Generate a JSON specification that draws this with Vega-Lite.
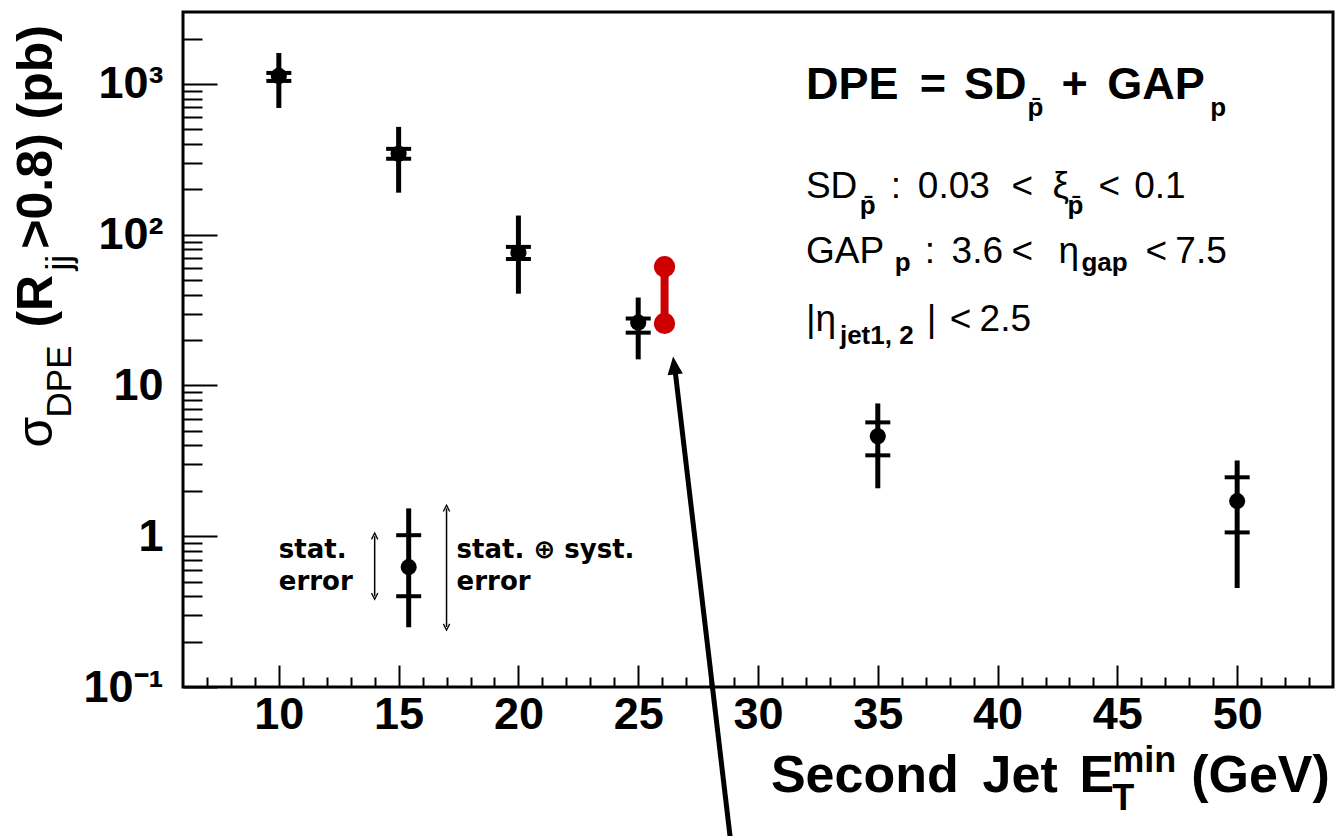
{
  "$schema": "https://vega.github.io/schema/vega-lite/v6.json",
  "width": 1150,
  "height": 675,
  "autosize": {"type": "none"},
  "padding": {"left": 183, "top": 12, "right": 4, "bottom": 149},
  "background": "white",
  "config": {"view": {"stroke": "black", "strokeWidth": 3}},
  "resolve": {"axis": {"x": "independent", "y": "independent"}},
  "datasets": {
    "pts": [
      {"x": 10, "y": 1130, "lo": 693, "hi": 1603, "slo": 1047, "shi": 1183},
      {"x": 15, "y": 344, "lo": 190, "hi": 519, "slo": 319, "shi": 371},
      {"x": 20, "y": 76, "lo": 40.6, "hi": 134, "slo": 69, "shi": 83},
      {"x": 25, "y": 26.1, "lo": 14.9, "hi": 38.3, "slo": 22.4, "shi": 27.8},
      {"x": 35, "y": 4.6, "lo": 2.08, "hi": 7.6, "slo": 3.44, "shi": 5.69},
      {"x": 50, "y": 1.71, "lo": 0.453, "hi": 3.18, "slo": 1.06, "shi": 2.46},
      {"x": 15.42, "y": 0.624, "lo": 0.249, "hi": 1.53, "slo": 0.40, "shi": 1.016}
    ],
    "red": [{"x": 26.1, "lo": 25.8, "hi": 61.4}],
    "keyArrows": [{"x": 14.0, "lo": 0.40, "hi": 1.0}, {"x": 17.0, "lo": 0.25, "hi": 1.53}],
    "bigArrow": [{"x": 28.875, "y": 0.009}, {"x": 26.54, "y": 12.57}],
    "arrowHead": [{"x": 26.5, "y": 13.57}],
    "yTitleBold": [{"x": 0.542, "y": 24.2, "t": "(R"}, {"x": 0.542, "y": 80.7, "t": ">0.8) (pb)"}],
    "yTitleSigma": [{"x": 0.542, "y": 3.88, "t": "σ"}],
    "yTitleSub": [{"x": 1.333, "y": 6.14, "t": "DPE"}, {"x": 1.333, "y": 57.8, "t": "jj"}],
    "xTitle": [{"x": 30.54, "y": 0.0202, "t": "Second"}, {"x": 39.375, "y": 0.0202, "t": "Jet"}, {"x": 43.42, "y": 0.0202, "t": "E"}, {"x": 48.08, "y": 0.0202, "t": "(GeV)"}],
    "xTitleSmall": [{"x": 44.79, "y": 0.02735, "t": "min"}, {"x": 44.79, "y": 0.01531, "t": "T"}],
    "ann1": [{"x": 32.0, "y": 795.6, "t": "DPE"}, {"x": 36.75, "y": 795.6, "t": "="}, {"x": 38.6, "y": 795.6, "t": "SD"}, {"x": 42.67, "y": 795.6, "t": "+"}, {"x": 44.58, "y": 795.6, "t": "GAP"}],
    "annSub": [
      {"x": 41.25, "y": 614, "t": "p̄"}, {"x": 48.875, "y": 614, "t": "p"},
      {"x": 34.25, "y": 137.7, "t": "p̄"}, {"x": 42.92, "y": 137.7, "t": "p̄"},
      {"x": 35.71, "y": 57.8, "t": "p"}, {"x": 43.5, "y": 57.8, "t": "gap"},
      {"x": 33.42, "y": 18.97, "t": "jet1, 2"}
    ],
    "annReg": [
      {"x": 32.0, "y": 175.8, "t": "SD"}, {"x": 35.54, "y": 175.8, "t": ":"}, {"x": 36.67, "y": 175.8, "t": "0.03"}, {"x": 40.58, "y": 175.8, "t": "<"}, {"x": 42.29, "y": 175.8, "t": "ξ"}, {"x": 44.21, "y": 175.8, "t": "<"}, {"x": 45.7, "y": 175.8, "t": "0.1"},
      {"x": 32.0, "y": 65.3, "t": "GAP"}, {"x": 36.96, "y": 65.3, "t": ":"}, {"x": 38.08, "y": 65.3, "t": "3.6"}, {"x": 40.58, "y": 65.3, "t": "<"}, {"x": 42.54, "y": 65.3, "t": "η"}, {"x": 46.17, "y": 65.3, "t": "<"}, {"x": 47.42, "y": 65.3, "t": "7.5"},
      {"x": 32.0, "y": 23.1, "t": "|η"}, {"x": 37.04, "y": 23.1, "t": "|"}, {"x": 38.0, "y": 23.1, "t": "<"}, {"x": 39.25, "y": 23.1, "t": "2.5"}
    ],
    "keyText": [{"x": 10.0, "y": 0.715, "t": "stat."}, {"x": 10.0, "y": 0.439, "t": "error"}, {"x": 17.42, "y": 0.715, "t": "stat. ⊕ syst."}, {"x": 17.42, "y": 0.439, "t": "error"}]
  },
  "layer": [
    {
      "data": {"name": "pts"},
      "mark": {"type": "rule", "color": "black", "strokeWidth": 5},
      "encoding": {
        "x": {"field": "x", "type": "quantitative", "scale": {"domain": [6, 54], "nice": false, "zero": false},
          "axis": {
            "orient": "bottom",
            "values": [10, 15, 20, 25, 30, 35, 40, 45, 50],
            "title": null, "domain": false, "grid": false,
            "tickColor": "black", "tickWidth": 2, "tickSize": -22,
            "format": "d",
            "labelFont": "Liberation Sans", "labelFontWeight": "bold", "labelFontSize": 45, "labelColor": "black",
            "labelPadding": 27, "labelOverlap": false, "labelFlush": false, "labelBound": false
          }},
        "y": {"field": "lo", "type": "quantitative", "scale": {"type": "log", "domain": [0.1, 3000], "nice": false},
          "axis": {
            "orient": "left",
            "values": [0.1, 1, 10, 100, 1000],
            "title": null, "domain": false, "grid": false,
            "tickColor": "black", "tickWidth": 2, "tickSize": -34,
            "labelExpr": "datum.value === 1000 ? '10³' : datum.value === 100 ? '10²' : datum.value === 10 ? '10\u2008' : datum.value === 1 ? '1\u2008' : '10⁻¹'",
            "labelFont": "Liberation Sans", "labelFontWeight": "bold", "labelFontSize": 45, "labelColor": "black",
            "labelPadding": 54, "labelOverlap": false, "labelFlush": false, "labelBound": false
          }},
        "y2": {"field": "hi"}
      }
    },
    {
      "data": {"name": "pts"},
      "mark": {"type": "tick", "orient": "horizontal", "size": 25, "thickness": 4, "color": "black", "opacity": 1},
      "encoding": {
        "x": {"field": "x", "type": "quantitative",
          "axis": {
            "orient": "bottom",
            "values": [7,8,9,11,12,13,14,16,17,18,19,21,22,23,24,26,27,28,29,31,32,33,34,36,37,38,39,41,42,43,44,46,47,48,49,51,52,53],
            "title": null, "domain": false, "grid": false, "labels": false,
            "tickColor": "black", "tickWidth": 2, "tickSize": -10
          }},
        "y": {"field": "shi", "type": "quantitative",
          "axis": {
            "orient": "left",
            "values": [0.2,0.3,0.4,0.5,0.6,0.7,0.8,0.9,2,3,4,5,6,7,8,9,20,30,40,50,60,70,80,90,200,300,400,500,600,700,800,900,2000],
            "title": null, "domain": false, "grid": false, "labels": false,
            "tickColor": "black", "tickWidth": 2, "tickSize": -19
          }}
      }
    },
    {
      "data": {"name": "pts"},
      "mark": {"type": "tick", "orient": "horizontal", "size": 25, "thickness": 4, "color": "black", "opacity": 1},
      "encoding": {"x": {"field": "x", "type": "quantitative", "axis": null}, "y": {"field": "slo", "type": "quantitative", "axis": null}}
    },
    {
      "data": {"name": "pts"},
      "mark": {"type": "point", "shape": "circle", "filled": true, "size": 260, "color": "black", "opacity": 1},
      "encoding": {"x": {"field": "x", "type": "quantitative", "axis": null}, "y": {"field": "y", "type": "quantitative", "axis": null}}
    },
    {
      "data": {"name": "red"},
      "mark": {"type": "rule", "color": "#cc0000", "strokeWidth": 8},
      "encoding": {"x": {"field": "x", "type": "quantitative", "axis": null}, "y": {"field": "lo", "type": "quantitative", "axis": null}, "y2": {"field": "hi"}}
    },
    {
      "data": {"name": "red"},
      "mark": {"type": "point", "shape": "circle", "filled": true, "size": 450, "color": "#cc0000", "opacity": 1},
      "encoding": {"x": {"field": "x", "type": "quantitative", "axis": null}, "y": {"field": "lo", "type": "quantitative", "axis": null}}
    },
    {
      "data": {"name": "red"},
      "mark": {"type": "point", "shape": "circle", "filled": true, "size": 450, "color": "#cc0000", "opacity": 1},
      "encoding": {"x": {"field": "x", "type": "quantitative", "axis": null}, "y": {"field": "hi", "type": "quantitative", "axis": null}}
    },
    {
      "data": {"name": "keyArrows"},
      "mark": {"type": "rule", "color": "black", "strokeWidth": 1.5},
      "encoding": {"x": {"field": "x", "type": "quantitative", "axis": null}, "y": {"field": "lo", "type": "quantitative", "axis": null}, "y2": {"field": "hi"}}
    },
    {
      "data": {"name": "keyArrows"},
      "mark": {"type": "point", "shape": "M-1,1L0,-1L1,1", "filled": false, "size": 40, "stroke": "black", "strokeWidth": 1.3, "opacity": 1},
      "encoding": {"x": {"field": "x", "type": "quantitative", "axis": null}, "y": {"field": "hi", "type": "quantitative", "axis": null}}
    },
    {
      "data": {"name": "keyArrows"},
      "mark": {"type": "point", "shape": "M-1,-1L0,1L1,-1", "filled": false, "size": 40, "stroke": "black", "strokeWidth": 1.3, "opacity": 1},
      "encoding": {"x": {"field": "x", "type": "quantitative", "axis": null}, "y": {"field": "lo", "type": "quantitative", "axis": null}}
    },
    {
      "data": {"name": "bigArrow"},
      "mark": {"type": "line", "color": "black", "strokeWidth": 5, "clip": false},
      "encoding": {"x": {"field": "x", "type": "quantitative", "axis": null}, "y": {"field": "y", "type": "quantitative", "axis": null}}
    },
    {
      "data": {"name": "arrowHead"},
      "mark": {"type": "point", "shape": "M0,-1L0.85,1L-0.85,1Z", "filled": true, "size": 324, "color": "black", "opacity": 1, "angle": -6.7},
      "encoding": {"x": {"field": "x", "type": "quantitative", "axis": null}, "y": {"field": "y", "type": "quantitative", "axis": null}}
    },
    {
      "data": {"name": "yTitleBold"},
      "mark": {"type": "text", "align": "left", "baseline": "alphabetic", "angle": 270, "font": "Liberation Sans", "fontSize": 50, "fontWeight": "bold", "color": "black", "clip": false},
      "encoding": {"x": {"field": "x", "type": "quantitative", "axis": null}, "y": {"field": "y", "type": "quantitative", "axis": null}, "text": {"field": "t"}}
    },
    {
      "data": {"name": "yTitleSigma"},
      "mark": {"type": "text", "align": "left", "baseline": "alphabetic", "angle": 270, "font": "Liberation Sans", "fontSize": 50, "color": "black", "clip": false},
      "encoding": {"x": {"field": "x", "type": "quantitative", "axis": null}, "y": {"field": "y", "type": "quantitative", "axis": null}, "text": {"field": "t"}}
    },
    {
      "data": {"name": "yTitleSub"},
      "mark": {"type": "text", "align": "left", "baseline": "alphabetic", "angle": 270, "font": "Liberation Sans", "fontSize": 35, "color": "black", "clip": false},
      "encoding": {"x": {"field": "x", "type": "quantitative", "axis": null}, "y": {"field": "y", "type": "quantitative", "axis": null}, "text": {"field": "t"}}
    },
    {
      "data": {"name": "xTitle"},
      "mark": {"type": "text", "align": "left", "baseline": "alphabetic", "font": "Liberation Sans", "fontSize": 52, "fontWeight": "bold", "color": "black", "clip": false},
      "encoding": {"x": {"field": "x", "type": "quantitative", "axis": null}, "y": {"field": "y", "type": "quantitative", "axis": null}, "text": {"field": "t"}}
    },
    {
      "data": {"name": "xTitleSmall"},
      "mark": {"type": "text", "align": "left", "baseline": "alphabetic", "font": "Liberation Sans", "fontSize": 36, "fontWeight": "bold", "color": "black", "clip": false},
      "encoding": {"x": {"field": "x", "type": "quantitative", "axis": null}, "y": {"field": "y", "type": "quantitative", "axis": null}, "text": {"field": "t"}}
    },
    {
      "data": {"name": "ann1"},
      "mark": {"type": "text", "align": "left", "baseline": "alphabetic", "font": "Liberation Sans", "fontSize": 45, "fontWeight": "bold", "color": "black", "clip": false},
      "encoding": {"x": {"field": "x", "type": "quantitative", "axis": null}, "y": {"field": "y", "type": "quantitative", "axis": null}, "text": {"field": "t"}}
    },
    {
      "data": {"name": "annSub"},
      "mark": {"type": "text", "align": "left", "baseline": "alphabetic", "font": "Liberation Sans", "fontSize": 26, "fontWeight": "bold", "color": "black", "clip": false},
      "encoding": {"x": {"field": "x", "type": "quantitative", "axis": null}, "y": {"field": "y", "type": "quantitative", "axis": null}, "text": {"field": "t"}}
    },
    {
      "data": {"name": "annReg"},
      "mark": {"type": "text", "align": "left", "baseline": "alphabetic", "font": "Liberation Sans", "fontSize": 37, "color": "black", "clip": false},
      "encoding": {"x": {"field": "x", "type": "quantitative", "axis": null}, "y": {"field": "y", "type": "quantitative", "axis": null}, "text": {"field": "t"}}
    },
    {
      "data": {"name": "keyText"},
      "mark": {"type": "text", "align": "left", "baseline": "alphabetic", "font": "DejaVu Sans", "fontSize": 26, "fontWeight": "bold", "color": "black", "clip": false},
      "encoding": {"x": {"field": "x", "type": "quantitative", "axis": null}, "y": {"field": "y", "type": "quantitative", "axis": null}, "text": {"field": "t"}}
    }
  ]
}
